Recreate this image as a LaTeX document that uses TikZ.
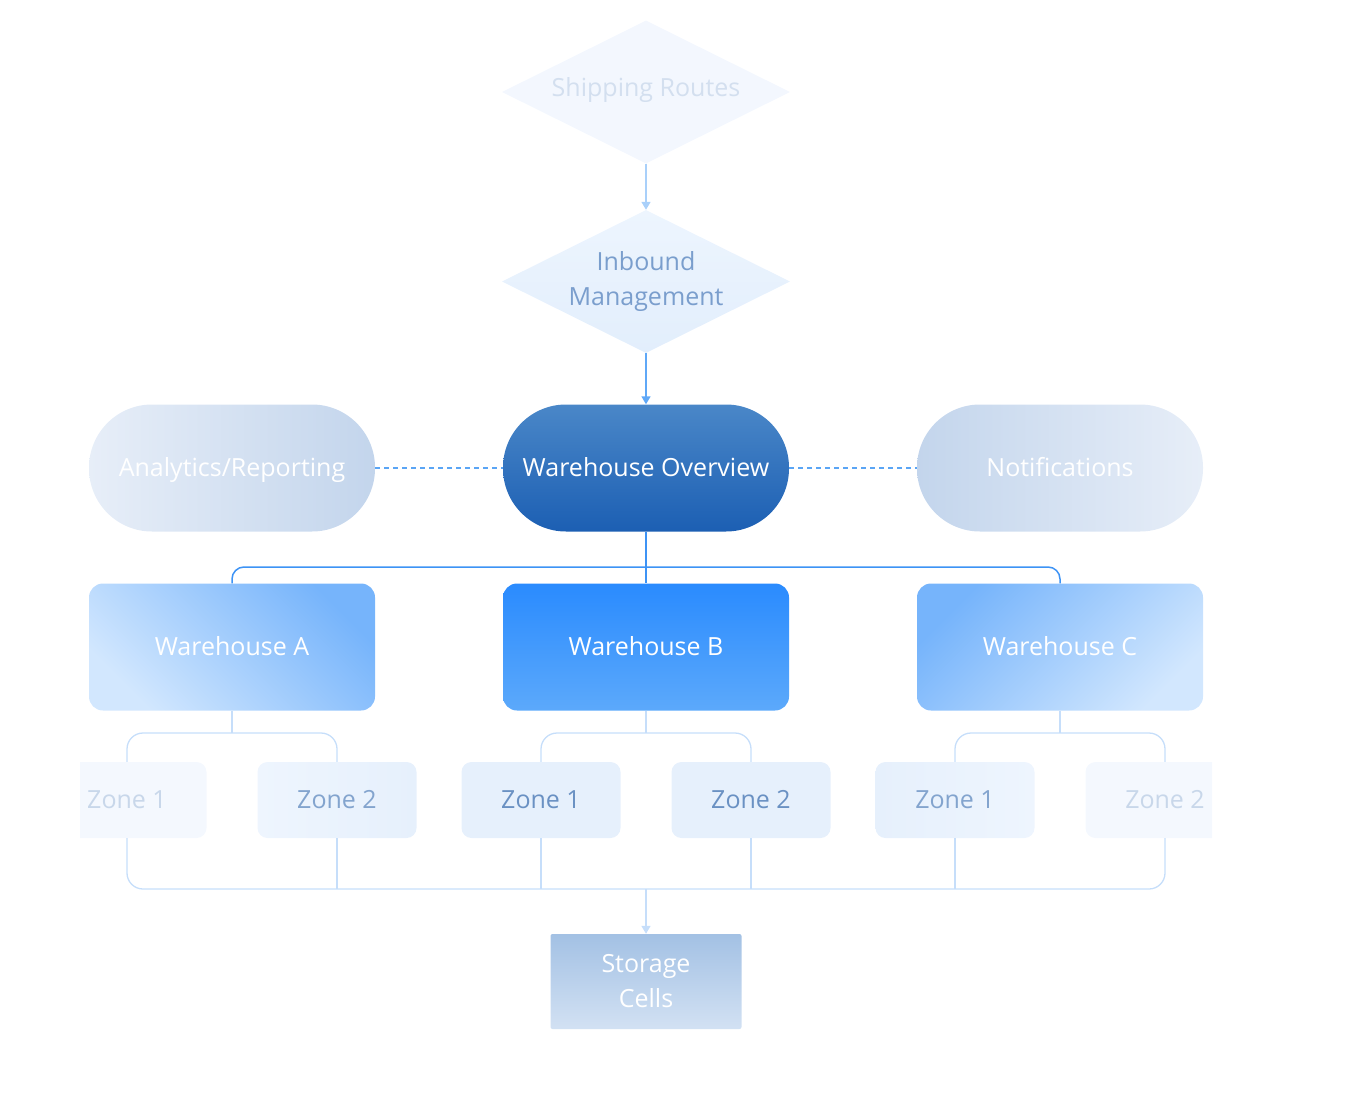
\documentclass[tikz,border=0pt]{standalone}
\usepackage{fontspec}
\setmainfont{Open Sans}
\usetikzlibrary{shapes.geometric,arrows.meta}
\definecolor{shipfill}{HTML}{F3F7FE}
\definecolor{shiptext}{HTML}{D3DFEF}
\definecolor{inbtop}{HTML}{EDF5FE}
\definecolor{inbbot}{HTML}{E2EEFC}
\definecolor{inbtext}{HTML}{7A9ECD}
\definecolor{ovtop}{HTML}{4A87C8}
\definecolor{ovbot}{HTML}{1C5FB3}
\definecolor{sidelight}{HTML}{E7EEF8}
\definecolor{sidedark}{HTML}{C3D5EC}
\definecolor{wlight}{HTML}{D2E7FE}
\definecolor{wdark}{HTML}{76B4FB}
\definecolor{wbtop}{HTML}{2A8BFE}
\definecolor{wbbot}{HTML}{5CA9FB}
\definecolor{zfill}{HTML}{E6F0FC}
\definecolor{zfillb}{HTML}{EEF5FE}
\definecolor{zfade}{HTML}{F4F8FE}
\definecolor{ztext}{HTML}{6A91C3}
\definecolor{ztextb}{HTML}{83A4CE}
\definecolor{ztextfade}{HTML}{C8D7EA}
\definecolor{sctop}{HTML}{A3C1E4}
\definecolor{scbot}{HTML}{D2E1F3}
\definecolor{mainblue}{HTML}{3D93F5}
\definecolor{dashblue}{HTML}{5AA5F5}
\definecolor{paleline}{HTML}{C6DEFA}
\definecolor{arrA}{HTML}{A9D0FA}
\definecolor{arrB}{HTML}{5FA8F7}
\tikzset{
  lbl/.style={font=\fontsize{25}{35}\selectfont, align=center, inner sep=0pt},
  oneline/.style={text height=17.8pt, text depth=0pt},
  dia/.style={diamond, aspect=2, minimum width=288pt, minimum height=143pt, inner sep=0pt, draw=none, lbl},
  stadium/.style={rectangle, rounded corners=63pt, minimum width=286pt, minimum height=127pt, draw=none, lbl, oneline, text=white},
  whouse/.style={rectangle, rounded corners=14pt, minimum width=286pt, minimum height=127pt, draw=none, lbl, oneline, text=white},
  zonebox/.style={rectangle, rounded corners=10pt, minimum width=159pt, minimum height=76pt, draw=none, lbl, oneline},
  mainline/.style={draw=mainblue, line width=1.5pt, rounded corners=12pt},
  zoneline/.style={draw=paleline, line width=1.3pt, rounded corners=16pt},
  arrowline/.style={line width=1.5pt, -{Triangle[width=9pt,length=8pt]}},
  dashline/.style={draw=dashblue, line width=1.3pt, dash pattern=on 5pt off 4pt}
}
\begin{document}
\begin{tikzpicture}[x=1pt,y=-1pt]
\useasboundingbox (0,0) rectangle (1372,1110);
\begin{scope}
\clip (80,0) rectangle (1212,1110);
% nodes
\node[dia, fill=shipfill, text=shiptext, text height=17.8pt, text depth=8pt] (ship) at (646,92) {Shipping Routes};
\node[dia, top color=inbtop, bottom color=inbbot, text=inbtext] (inb) at (646,281.5) {Inbound\\Management};
\node[stadium, top color=ovtop, bottom color=ovbot] (ov) at (646,468) {Warehouse Overview};
\node[stadium, left color=sidelight, right color=sidedark] (ana) at (232,468) {Analytics/Reporting};
\node[stadium, left color=sidedark, right color=sidelight] (noti) at (1060,468) {Notifications};
\node[whouse, left color=wlight, right color=wdark, shading angle=135] (wa) at (232,647) {Warehouse A};
\node[whouse, top color=wbtop, bottom color=wbbot] (wb) at (646,647) {Warehouse B};
\node[whouse, left color=wdark, right color=wlight, shading angle=45] (wc) at (1060,647) {Warehouse C};
\node[zonebox, fill=zfade, text=ztextfade] (za1) at (127,800) {Zone 1};
\node[zonebox, left color=zfillb, right color=zfill, text=ztextb] (za2) at (337,800) {Zone 2};
\node[zonebox, fill=zfill, text=ztext] (zb1) at (541,800) {Zone 1};
\node[zonebox, fill=zfill, text=ztext] (zb2) at (751,800) {Zone 2};
\node[zonebox, left color=zfill, right color=zfillb, text=ztextb] (zc1) at (955,800) {Zone 1};
\node[zonebox, fill=zfade, text=ztextfade] (zc2) at (1165,800) {Zone 2};
\node[rectangle, minimum width=191pt, minimum height=95pt, rounded corners=2pt, top color=sctop, bottom color=scbot, lbl, text=white] (sc) at (646,981.5) {Storage\\Cells};
% helper coordinates
\coordinate (busw) at (646,567);
\coordinate (busa) at (232,733);
\coordinate (busb) at (646,733);
\coordinate (busc) at (1060,733);
\coordinate (busz) at (646,889);
% connectors
\draw[arrowline, draw=arrA, fill=arrA] (ship.south) -- (inb.north);
\draw[arrowline, draw=arrB, fill=arrB] (inb.south) -- (ov.north);
\draw[dashline] (ana.east) -- (ov.west);
\draw[dashline] (ov.east) -- (noti.west);
\draw[mainline] (wa.north) |- (busw) -| (wc.north);
\draw[mainline] (ov.south) -- (wb.north);
\draw[zoneline] (wa.south) -- (busa);
\draw[zoneline] (za1.north) |- (busa) -| (za2.north);
\draw[zoneline] (wb.south) -- (busb);
\draw[zoneline] (zb1.north) |- (busb) -| (zb2.north);
\draw[zoneline] (wc.south) -- (busc);
\draw[zoneline] (zc1.north) |- (busc) -| (zc2.north);
\draw[zoneline] (za1.south) |- (busz) -| (zc2.south);
\draw[zoneline] (za2.south) -- (za2.south |- busz);
\draw[zoneline] (zb1.south) -- (zb1.south |- busz);
\draw[zoneline] (zb2.south) -- (zb2.south |- busz);
\draw[zoneline] (zc1.south) -- (zc1.south |- busz);
\draw[arrowline, draw=paleline, fill=paleline] (busz) -- (sc.north);
\end{scope}
\end{tikzpicture}
\end{document}
